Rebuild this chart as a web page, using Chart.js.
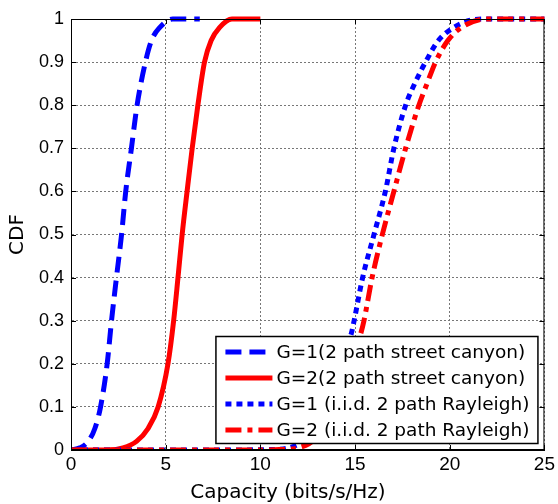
<!DOCTYPE html>
<html>
<head>
<meta charset="utf-8">
<script src="https://cdn.jsdelivr.net/npm/chart.js@4"></script>
<style>
html,body{margin:0;padding:0;background:#fff;}
#wrap{width:558px;height:504px;position:relative;}
</style>
</head>
<body>
<div id="wrap"><canvas id="c" width="558" height="504"></canvas></div>
<script>
// ---- data ----
const xTicks = [0, 5, 10, 15, 20, 25];
const yTicks = [0, 0.1, 0.2, 0.3, 0.4, 0.5, 0.6, 0.7, 0.8, 0.9, 1];
const xTitle = "Capacity (bits/s/Hz)";
const yTitle = "CDF";
const seriesLabels = [
  "G=1(2 path street canyon)",
  "G=2(2 path street canyon)",
  "G=1 (i.i.d. 2 path Rayleigh)",
  "G=2 (i.i.d. 2 path Rayleigh)"
];
// G=1 street canyon
const sc1X = [0, 0.47, 0.91, 1.26, 1.56, 1.91, 2.14, 2.4, 2.67, 2.89, 3.19, 3.49, 3.93, 4.25, 4.68, 5.37, 6.8];
const sc1Y = [0, 0.005, 0.02, 0.05, 0.1, 0.2, 0.3, 0.4, 0.5, 0.6, 0.7, 0.8, 0.9, 0.95, 0.98, 1, 1];
// G=2 street canyon
const sc2X = [0, 2.0, 2.75, 3.46, 4.07, 4.6, 5.12, 5.42, 5.65, 5.87, 6.13, 6.4, 6.7, 7.05, 7.4, 7.84, 8.5, 10];
const sc2Y = [0, 0, 0.005, 0.02, 0.05, 0.1, 0.2, 0.3, 0.4, 0.5, 0.6, 0.7, 0.8, 0.9, 0.95, 0.98, 1, 1];
// G=1 Rayleigh
const ry1X = [0, 8, 10.5, 11.5, 12.5, 13.5, 14.2, 14.8, 14.95, 15.4, 16.0, 16.6, 17.05, 17.67, 18.15, 18.72, 19.4, 20.2, 21.2, 22, 25];
const ry1Y = [0, 0, 0.001, 0.005, 0.03, 0.1, 0.19, 0.27, 0.3, 0.4, 0.5, 0.6, 0.7, 0.8, 0.85, 0.9, 0.95, 0.98, 0.998, 1, 1];
// G=2 Rayleigh
const ry2X = [0, 10, 11, 12, 13, 14, 14.7, 15.3, 15.47, 15.9, 16.44, 17.05, 17.67, 18.37, 18.8, 19.25, 19.9, 20.6, 21.9, 25];
const ry2Y = [0, 0, 0.001, 0.005, 0.03, 0.1, 0.19, 0.27, 0.3, 0.4, 0.5, 0.6, 0.7, 0.8, 0.85, 0.9, 0.95, 0.98, 1, 1];

const pts = (xs, ys) => xs.map((x, i) => ({x: x, y: ys[i]}));
const FONT = "'DejaVu Sans', sans-serif";
const TICKFONT = "'Liberation Sans', Arial, sans-serif";

const styles = [
  {color: '#0000ff', dash: [16, 8], width: 5},
  {color: '#ff0000', dash: [], width: 5},
  {color: '#0000ff', dash: [6, 5], width: 5},
  {color: '#ff0000', dash: [16, 6, 5, 6], width: 5}
];
const allData = [pts(sc1X, sc1Y), pts(sc2X, sc2Y), pts(ry1X, ry1Y), pts(ry2X, ry2Y)];

const datasets = allData.map((d, i) => ({
  label: seriesLabels[i],
  data: d,
  showLine: true,
  borderColor: styles[i].color,
  backgroundColor: styles[i].color,
  borderWidth: styles[i].width,
  borderDash: styles[i].dash,
  borderCapStyle: 'butt',
  borderJoinStyle: 'round',
  pointRadius: 0,
  cubicInterpolationMode: 'monotone',
  fill: false,
  clip: {left: 0, right: 6, top: 6, bottom: 0},
  order: 4 - i
}));

const framePlugin = {
  id: 'frame',
  afterDraw(chart) {
    const {ctx, chartArea: a, scales} = chart;
    ctx.save();
    ctx.strokeStyle = '#000';
    ctx.lineWidth = 1;
    ctx.setLineDash([]);
    ctx.strokeRect(a.left + 0.5, a.top + 0.5, a.right - a.left - 1, a.bottom - a.top - 1);
    // inward ticks
    const tl = 5;
    ctx.beginPath();
    xTicks.forEach(v => {
      const px = Math.round(scales.x.getPixelForValue(v)) + 0.5;
      ctx.moveTo(px, a.bottom); ctx.lineTo(px, a.bottom - tl);
      ctx.moveTo(px, a.top); ctx.lineTo(px, a.top + tl);
    });
    yTicks.forEach(v => {
      const py = Math.round(scales.y.getPixelForValue(v)) + 0.5;
      ctx.moveTo(a.left, py); ctx.lineTo(a.left + tl, py);
      ctx.moveTo(a.right, py); ctx.lineTo(a.right - tl, py);
    });
    ctx.stroke();

    // x axis title (offset left of plot centre as in the reference)
    ctx.fillStyle = '#000';
    ctx.font = "20px " + FONT;
    ctx.textAlign = 'center';
    ctx.textBaseline = 'middle';
    ctx.fillText(xTitle, 288, 493);

    // legend
    const bw = 322, bh = 107;
    const bx = a.right - 7 - bw, by = a.bottom - 7 - bh;
    ctx.fillStyle = '#fff';
    ctx.fillRect(bx, by, bw, bh);
    ctx.strokeStyle = '#000';
    ctx.lineWidth = 1.5;
    ctx.strokeRect(bx + 0.5, by + 0.5, bw, bh);
    ctx.font = "18.5px " + FONT;
    ctx.textBaseline = 'middle';
    ctx.textAlign = 'left';
    chart.data.datasets.forEach((ds, i) => {
      const cy = by + 16 + i * 26;
      ctx.beginPath();
      ctx.strokeStyle = ds.borderColor;
      ctx.lineWidth = ds.borderWidth;
      ctx.setLineDash(ds.borderDash);
      ctx.lineCap = 'butt';
      ctx.moveTo(bx + 10, cy);
      ctx.lineTo(bx + 57, cy);
      ctx.stroke();
      ctx.setLineDash([]);
      ctx.fillStyle = '#000';
      ctx.fillText(ds.label, bx + 61, cy + 1);
    });
    ctx.restore();
  }
};

new Chart(document.getElementById('c'), {
  type: 'scatter',
  data: {datasets: datasets},
  options: {
    responsive: false,
    animation: false,
    devicePixelRatio: 1,
    layout: {padding: {top: 19, right: 12, left: 0, bottom: 0}},
    plugins: {legend: {display: false}, tooltip: {enabled: false}},
    scales: {
      x: {
        type: 'linear', min: 0, max: 25,
        afterBuildTicks: s => { s.ticks = xTicks.map(v => ({value: v})); },
        ticks: {color: '#000', font: {family: TICKFONT, size: 19}, padding: 3, maxRotation: 0},
        grid: {color: '#777', drawTicks: false, lineWidth: 1},
        border: {display: true, color: '#000', width: 1, dash: [2, 2]},
        title: {display: false},
        afterFit: s => { s.height = 54; }
      },
      y: {
        type: 'linear', min: 0, max: 1,
        afterBuildTicks: s => { s.ticks = yTicks.map(v => ({value: v})); },
        ticks: {color: '#000', font: {family: TICKFONT, size: 18}, padding: 7,
          callback: v => String(Math.round(v * 10) / 10)},
        grid: {color: '#777', drawTicks: false, lineWidth: 1},
        border: {display: true, color: '#000', width: 1, dash: [2, 2]},
        title: {display: true, text: yTitle, color: '#000', font: {family: FONT, size: 20}, padding: {top: 6, bottom: 0}},
        afterFit: s => { s.width = 71; }
      }
    }
  },
  plugins: [framePlugin]
});
</script>
</body>
</html>
